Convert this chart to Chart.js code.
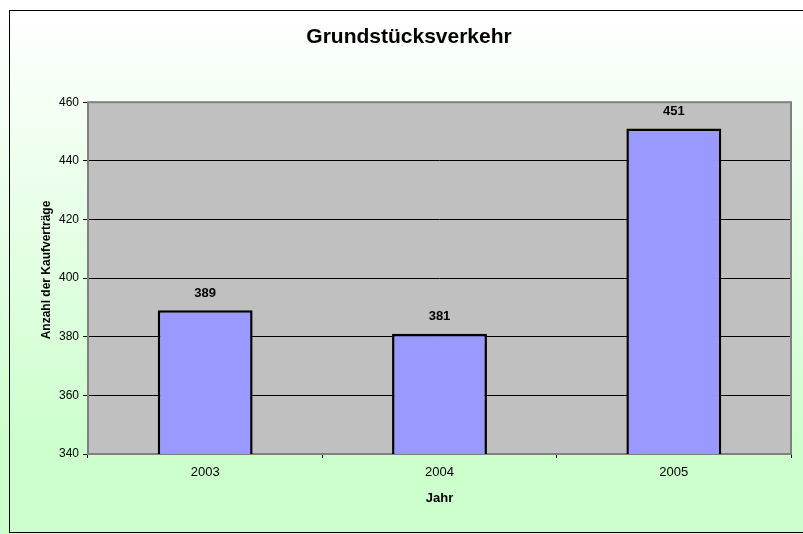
<!DOCTYPE html>
<html lang="de">
<head>
  <meta charset="UTF-8" />
  <title>Grundstücksverkehr</title>
  <script src="https://cdn.jsdelivr.net/npm/chart.js"></script>
  <style>
    body { margin: 0; background: #fff; }
    #wrap { width: 803px; height: 534px; }
  </style>
</head>
<body>
  <div id="wrap"><canvas id="chart" width="803" height="534"></canvas></div>
  <script>
    const years = ['2003', '2004', '2005'];
    const contracts = [389, 381, 451];
    const yMin = 340;
    const yMax = 460;
    const yStep = 20;
    const yTitle = 'Anzahl der Kaufverträge';

    const family = '"Liberation Sans", Arial, sans-serif';

    // page background gradient + outer frame + grey plot area
    const frame = {
      id: 'frame',
      beforeDraw(chart) {
        const { ctx, width, height, chartArea: a } = chart;
        ctx.save();
        const g = ctx.createLinearGradient(0, 10, 0, height);
        g.addColorStop(0, '#ffffff');
        g.addColorStop(0.85, '#ccffcc');
        g.addColorStop(1, '#ccffcc');
        ctx.fillStyle = g;
        ctx.fillRect(0, 0, width, height);
        ctx.strokeStyle = '#000';
        ctx.lineWidth = 1;
        ctx.strokeRect(9.5, 10.5, width + 10, height - 12);
        ctx.fillStyle = '#c0c0c0';
        ctx.fillRect(a.left, a.top, a.right - a.left, a.bottom - a.top);
        ctx.restore();
      },
      beforeDatasetsDraw(chart) {
        const { ctx, chartArea: a } = chart;
        ctx.save();
        ctx.strokeStyle = '#808080';
        ctx.lineWidth = 2;
        ctx.strokeRect(a.left, a.top, a.right - a.left, a.bottom - a.top);
        // y axis title (sits a little above the plot middle in the original)
        ctx.fillStyle = '#000';
        ctx.font = 'bold 12px ' + family;
        ctx.textAlign = 'center';
        ctx.textBaseline = 'middle';
        ctx.translate(47, 270);
        ctx.rotate(-Math.PI / 2);
        ctx.fillText(yTitle, 0, 0);
        ctx.restore();
      }
    };

    // values above the bars
    const valueLabels = {
      id: 'valueLabels',
      afterDatasetsDraw(chart) {
        const { ctx } = chart;
        const meta = chart.getDatasetMeta(0);
        ctx.save();
        ctx.font = 'bold 13px ' + family;
        ctx.fillStyle = '#000';
        ctx.textAlign = 'center';
        ctx.textBaseline = 'middle';
        meta.data.forEach((bar, i) => {
          ctx.fillText(String(contracts[i]), bar.x, bar.y - 17);
        });
        ctx.restore();
      }
    };

    new Chart(document.getElementById('chart'), {
      type: 'bar',
      data: {
        labels: years,
        datasets: [{
          data: contracts,
          backgroundColor: '#9999ff',
          borderColor: '#000',
          borderWidth: 2.5,
          barPercentage: 0.405,
          categoryPercentage: 1
        }]
      },
      options: {
        responsive: false,
        animation: false,
        layout: { padding: { top: 0, right: 12, bottom: 0, left: 27 } },
        plugins: {
          legend: { display: false },
          tooltip: { enabled: false },
          title: {
            display: true,
            text: 'Grundstücksverkehr',
            color: '#000',
            font: { family, size: 21, weight: 'bold' },
            padding: { top: 25, bottom: 52 }
          }
        },
        scales: {
          x: {
            grid: { drawOnChartArea: false, drawTicks: true, tickLength: 4, tickColor: '#000', offset: true },
            border: { display: false },
            ticks: { color: '#000', font: { family, size: 13 }, padding: 7 },
            title: { display: true, text: 'Jahr', color: '#000', font: { family, size: 13, weight: 'bold' }, padding: { top: 4, bottom: 28 } },
            afterFit(s) { s.height = 80; }
          },
          y: {
            min: yMin,
            max: yMax,
            ticks: { stepSize: yStep, color: '#000', font: { family, size: 12 }, padding: 4 },
            grid: { color: '#000', lineWidth: 1, tickLength: 5, tickColor: '#000' },
            border: { display: false },
            afterFit(s) { s.width = 61; }
          }
        }
      },
      plugins: [frame, valueLabels]
    });
  </script>
</body>
</html>
